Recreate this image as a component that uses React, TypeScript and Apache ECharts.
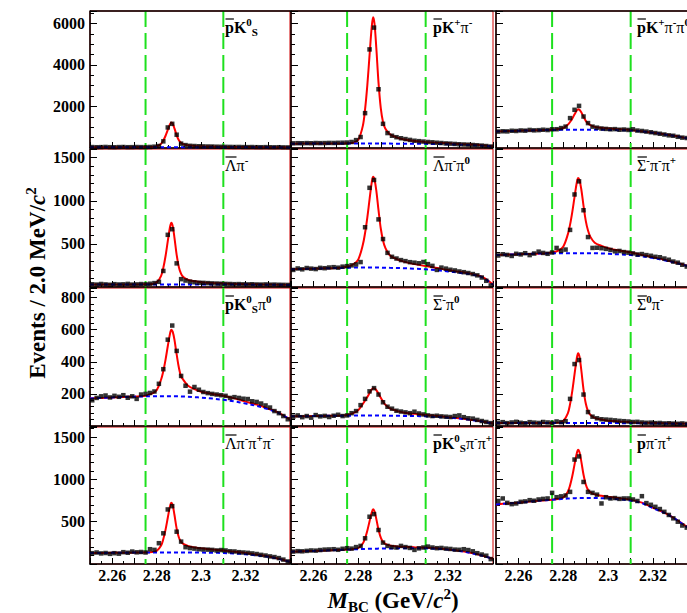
import React, { useEffect, useRef } from 'react';
import * as echarts from 'echarts';

// Bin centres (2 MeV bins)
const binX = [2.251,2.253,2.255,2.257,2.259,2.261,2.263,2.265,2.267,2.269,2.271,2.273,2.275,2.277,2.279,2.281,2.283,2.285,2.287,2.289,2.291,2.293,2.295,2.297,2.299,2.301,2.303,2.305,2.307,2.309,2.311,2.313,2.315,2.317,2.319,2.321,2.323,2.325,2.327,2.329,2.331,2.333,2.335,2.337,2.339];
// Abscissae at which the fit curves were read
const fitX = [2.25,2.255,2.26,2.265,2.27,2.275,2.278,2.28,2.282,2.283,2.284,2.285,2.286,2.2866,2.2872,2.288,2.289,2.29,2.291,2.292,2.294,2.297,2.3,2.305,2.31,2.315,2.32,2.325,2.33,2.335,2.34];
const windowLo = 2.275;
const windowHi = 2.31;
const xTickLabels = ['2.26', '2.28', '2.3', '2.32'];

// 1  pbar K0S
const data1 = [45,38,42,50,40,36,44,48,39,41,47,43,40,50,64,95,320,990,1165,640,210,140,105,95,85,78,72,70,62,58,55,52,48,50,44,42,46,40,38,42,36,34,38,30,28];
const fit1 = [42,42,42,42,42,44,52,78,209,363,590,875,1149,1232,1172,946,613,375,244,185,131,101,82,67,57,50,46,42,39,36,32];
const bkg1 = [42,42,42,42,42,42,42,42,42,42,42,42,42,42,42,42,42,42,42,42,42,41,41,40,40,38,36,34,32,30,28];
// 2  pbar K+ pi-
const data2 = [225,232,228,236,230,240,235,238,245,242,250,255,262,290,380,528,1680,4750,5800,2830,1165,720,590,520,470,430,390,350,330,310,290,275,255,240,220,210,195,180,170,160,145,130,115,95,70];
const fit2 = [210,211,212,213,214,226,263,397,1067,1858,3014,4476,5877,6303,5998,4840,3135,1917,1247,942,668,515,421,338,291,253,223,192,164,128,82];
const bkg2 = [210,211,212,213,214,214,214,214,214,214,213,213,213,213,213,212,212,212,212,211,211,210,208,204,200,192,180,162,140,110,70];
// 3  pbar K+ pi- pi0
const data3 = [790,805,800,830,820,845,835,870,850,860,880,865,900,905,960,1030,1440,1840,2030,1517,1200,1030,980,940,920,900,910,880,890,870,900,840,820,790,760,720,686,650,610,590,540,500,480,430,380];
const fit3 = [800,815,830,845,858,878,912,964,1125,1253,1423,1621,1809,1868,1839,1721,1504,1306,1177,1098,1019,967,934,900,870,810,740,662,575,474,373];
const bkg3 = [800,815,830,845,858,868,872,875,877,877,878,878,878,878,879,879,880,880,880,880,880,878,870,860,845,795,730,655,570,470,370];
// 4  Lambdabar pi-
const data4 = [32,28,35,30,26,33,29,31,36,28,30,34,31,38,45,60,186,605,670,274,91,75,62,55,50,48,45,42,40,38,36,35,33,34,31,30,32,29,28,30,27,28,26,25,24];
const fit4 = [30,30,30,30,30,31,36,51,130,223,359,531,695,745,709,573,373,230,152,116,84,66,55,46,41,36,33,31,29,27,25];
const bkg4 = [30,30,30,30,30,30,30,30,30,30,30,30,30,30,30,30,30,30,30,30,30,30,30,30,30,29,28,27,26,25,24];
// 5  Lambdabar pi- pi0
const data5 = [198,215,205,220,213,208,222,218,226,230,224,236,242,251,262,289,693,1150,1241,784,556,396,350,330,312,300,288,282,275,290,265,245,198,225,213,200,192,180,172,162,150,135,110,72,18];
const fit5 = [205,209,212,216,220,234,267,321,489,626,805,1016,1216,1279,1247,1121,888,678,540,456,369,325,297,265,243,220,196,176,155,120,28];
const bkg5 = [205,209,212,216,220,223,225,226,226,226,226,226,226,226,226,226,225,225,224,224,222,220,218,212,205,194,180,165,148,115,25];
// 6  Sigmabar- pi- pi+
const data6 = [365,380,372,360,385,378,392,370,388,410,395,385,400,453,420,434,662,1073,1225,890,579,453,455,450,442,430,414,418,405,398,390,377,382,370,362,350,345,330,316,295,282,258,237,215,195];
const fit6 = [370,375,380,384,388,399,426,470,610,723,872,1046,1212,1264,1238,1133,941,767,654,584,513,476,450,422,401,372,345,317,284,248,203];
const bkg6 = [370,375,380,384,388,390,391,392,392,392,392,392,392,392,392,392,392,392,392,392,391,389,385,378,370,355,335,310,280,245,200];
// 7  pbar K0S pi0
const data7 = [160,175,185,190,178,188,182,192,176,185,169,196,200,206,215,263,354,538,626,468,312,251,214,243,226,212,205,200,196,192,188,175,180,175,170,168,154,150,140,128,115,93,80,62,42];
const fit7 = [172,175,178,181,183,189,203,223,290,343,414,497,575,600,588,538,446,363,308,288,253,230,214,200,188,172,152,133,109,82,40];
const bkg7 = [172,175,178,181,183,185,186,186,186,186,186,186,186,186,186,186,185,185,184,184,183,180,177,171,163,153,140,125,105,80,40];
// 8  Sigmabar- pi0
const data8 = [58,66,55,62,52,68,60,63,56,64,70,62,66,80,93,130,169,216,236,196,148,120,108,95,90,85,80,89,78,72,66,62,64,60,58,56,62,66,55,48,46,38,31,25,18];
const fit8 = [60,61,62,63,64,69,82,99,137,159,181,205,229,236,234,224,202,176,154,133,110,95,84,76,69,62,55,48,39,29,15];
const bkg8 = [60,61,62,63,64,64,65,65,65,65,65,65,65,65,65,65,65,65,65,65,64,64,63,62,60,56,52,46,38,28,15];
// 9  Sigmabar0 pi-
const data9 = [20,24,18,22,26,20,17,24,21,19,25,22,20,28,24,30,169,386,411,196,87,58,48,42,40,38,35,32,30,28,25,26,22,20,21,18,19,16,17,15,14,16,13,12,12];
const fit9 = [18,18,18,18,18,19,21,31,79,136,219,323,423,454,432,349,227,140,92,70,51,40,33,28,24,21,19,17,16,14,11];
const bkg9 = [18,18,18,18,18,18,18,18,18,18,18,18,18,18,18,18,18,18,18,18,18,18,18,18,17,17,16,15,14,12,10];
// 10 Lambdabar pi- pi+ pi-
const data10 = [128,136,125,130,120,128,122,140,133,147,138,142,136,175,167,246,363,645,684,382,265,199,188,182,175,172,170,167,160,165,160,150,148,140,136,132,125,118,108,100,90,82,70,52,30];
const fit10 = [130,131,132,133,135,137,142,155,219,295,407,547,682,723,694,582,418,313,260,237,213,195,185,171,159,145,130,111,91,63,25];
const bkg10 = [130,131,132,133,135,136,137,137,137,137,137,137,137,137,137,137,137,137,137,137,137,136,135,133,130,124,115,102,85,60,25];
// 11 pbar K0S pi- pi+
const data11 = [147,152,150,155,160,158,165,170,172,175,168,180,187,182,200,214,304,559,590,402,253,214,200,195,214,200,190,167,185,195,206,195,187,190,182,178,170,168,175,165,150,128,112,98,58];
const fit11 = [145,150,155,160,165,171,177,189,242,304,393,506,612,646,623,534,405,312,261,239,219,208,203,197,192,185,173,157,132,101,61];
const bkg11 = [145,150,155,160,165,170,173,175,177,178,179,180,180,181,181,181,182,182,182,183,184,185,187,187,185,180,170,155,130,100,60];
// 12 pbar pi- pi+
const data12 = [745,775,723,708,716,735,740,755,748,763,770,775,841,790,800,810,853,1235,1272,970,853,841,820,716,790,775,780,770,775,775,763,745,802,720,700,676,650,617,580,540,500,455,430,400,370];
const fit12 = [705,715,725,738,750,761,771,787,854,930,1040,1178,1310,1351,1322,1214,1055,941,878,849,823,807,795,778,759,726,664,608,532,442,361];
const bkg12 = [705,715,725,738,750,760,766,770,774,776,777,778,779,780,780,780,781,781,781,781,780,778,775,765,750,720,660,605,530,440,360];

// Decay-mode labels (rich text) and the barred leading letter
const modeLabels = [
  '{b|pK}{sup|0}{sub|S}',
  '{b|pK}{sup|+}{g|π}{sup|-}',
  '{b|pK}{sup|+}{g|π}{sup|-}{g|π}{sup|0}',
  '{g|Λπ}{sup|-}',
  '{g|Λπ}{sup|-}{g|π}{sup|0}',
  '{g|Σ}{sup|-}{g|π}{sup|-}{g|π}{sup|+}',
  '{b|pK}{sup|0}{sub|S}{g|π}{sup|0}',
  '{g|Σ}{sup|-}{g|π}{sup|0}',
  '{g|Σ}{sup|0}{g|π}{sup|-}',
  '{g|Λπ}{sup|-}{g|π}{sup|+}{g|π}{sup|-}',
  '{b|pK}{sup|0}{sub|S}{g|π}{sup|-}{g|π}{sup|+}',
  '{b|p}{g|π}{sup|-}{g|π}{sup|+}',
];
const barredLetter = ['p','p','p','Λ','Λ','Σ','p','Σ','Σ','Λ','p','p'];

const panelData = [data1,data2,data3,data4,data5,data6,data7,data8,data9,data10,data11,data12];
const panelFit = [fit1,fit2,fit3,fit4,fit5,fit6,fit7,fit8,fit9,fit10,fit11,fit12];
const panelBkg = [bkg1,bkg2,bkg3,bkg4,bkg5,bkg6,bkg7,bkg8,bkg9,bkg10,bkg11,bkg12];

const rowMax = [6600, 1600, 860, 1620];
const rowInterval = [2000, 500, 200, 500];
const rowMinorSplit = [4, 5, 5, 5];

const FONT = '"Liberation Serif", "Times New Roman", Times, serif';

export default function App() {
  const ref = useRef<HTMLDivElement>(null);
  useEffect(() => {
    if (!ref.current) return;
    const chart = echarts.init(ref.current, null, { renderer: 'svg' });

    const rowTops = [11, 149, 288, 427];
    const rowHeights = [137, 138, 138, 137];
    const colLefts = [90, 291, 496];
    const colWidths = [200, 202, 202];
    const labelLefts = [225, 433, 637];
    const barWidth: Record<string, number> = { p: 8.9, 'Λ': 11.5, 'Σ': 9.9 };

    const grids: any[] = [];
    const xAxes: any[] = [];
    const yAxes: any[] = [];
    const series: any[] = [];
    const graphics: any[] = [];

    const rich = {
      b: { fontFamily: FONT, fontSize: 16, fontWeight: 'bold', lineHeight: 21, fill: '#000' },
      g: { fontFamily: FONT, fontSize: 16, fontWeight: 'normal', lineHeight: 21, fill: '#000' },
      sup: { fontFamily: FONT, fontSize: 11, fontWeight: 'bold', lineHeight: 12, verticalAlign: 'top', fill: '#000' },
      sub: { fontFamily: FONT, fontSize: 11, fontWeight: 'bold', lineHeight: 12, verticalAlign: 'bottom', fill: '#000' },
    };

    for (let g = 0; g < 12; g++) {
      const r = Math.floor(g / 3);
      const c = g % 3;
      grids.push({
        left: colLefts[c], top: rowTops[r], width: colWidths[c], height: rowHeights[r],
        outerBoundsMode: 'none', containLabel: false,
        show: true, borderColor: '#d00000', borderWidth: 1, backgroundColor: 'transparent',
      });
      xAxes.push({
        gridIndex: g, type: 'value', min: 2.25, max: 2.34, interval: 0.01,
        axisLine: { show: true, onZero: false, lineStyle: { color: '#000', width: 1.5 } },
        axisTick: { show: true, inside: true, length: 6, lineStyle: { color: '#000', width: 1 } },
        minorTick: { show: true, splitNumber: 2, length: 3, lineStyle: { color: '#000', width: 1 } },
        splitLine: { show: false },
        axisLabel: {
          show: r === 3, margin: 3, color: '#000', fontFamily: FONT, fontWeight: 'bold', fontSize: 16,
          formatter: (v: number) => {
            const s = String(Math.round(v * 1000) / 1000);
            return xTickLabels.includes(s) ? s : '';
          },
        },
      });
      yAxes.push({
        gridIndex: g, type: 'value', min: 0, max: rowMax[r], interval: rowInterval[r],
        axisLine: { show: true, onZero: false, lineStyle: { color: '#000', width: 1.5 } },
        axisTick: { show: true, inside: true, length: 7, lineStyle: { color: '#000', width: 1 } },
        minorTick: { show: true, splitNumber: rowMinorSplit[r], length: 4, lineStyle: { color: '#000', width: 1 } },
        splitLine: { show: false },
        axisLabel: {
          show: c === 0, margin: 5, color: '#000', fontFamily: FONT, fontWeight: 'bold', fontSize: 16,
          formatter: (v: number) => (v > 0 && v % rowInterval[r] === 0 ? String(v) : ''),
        },
      });
      // signal-window boundaries
      [windowLo, windowHi].forEach((wx) => {
        series.push({
          type: 'line', xAxisIndex: g, yAxisIndex: g, z: 1, silent: true,
          data: [[wx, rowMax[r]], [wx, 0]],
          symbol: 'none', lineStyle: { color: '#1ee01e', type: [16, 6], width: 2 },
        });
      });
      series.push({
        type: 'line', xAxisIndex: g, yAxisIndex: g, z: 3,
        data: fitX.map((x, i) => [x, panelFit[g][i]]),
        smooth: 0.35, symbol: 'none', lineStyle: { color: '#ff0000', width: 2 },
      });
      series.push({
        type: 'line', xAxisIndex: g, yAxisIndex: g, z: 4,
        data: fitX.map((x, i) => [x, panelBkg[g][i]]),
        smooth: 0.35, symbol: 'none', lineStyle: { color: '#0000ff', width: 2, type: [4, 3] },
      });
      series.push({
        type: 'scatter', xAxisIndex: g, yAxisIndex: g, z: 5,
        data: binX.map((x, i) => [x, panelData[g][i]]),
        symbol: 'rect', symbolSize: 4.5, itemStyle: { color: '#000' },
      });

      const ly = rowTops[r] + 16;
      const lx = labelLefts[c];
      graphics.push({
        type: 'text', x: lx, y: ly, z: 10,
        style: { text: modeLabels[g], rich, align: 'left', verticalAlign: 'middle', fill: '#000' },
      });
      const bw = barWidth[barredLetter[g]];
      graphics.push({
        type: 'line', z: 10,
        shape: { x1: lx + 0.5, y1: ly - 8, x2: lx + bw, y2: ly - 8 },
        style: { stroke: '#000', lineWidth: 1.2 },
      });
    }

    // top frame line of first row
    graphics.push({
      type: 'line', z: 10,
      shape: { x1: 90, y1: 11, x2: 687, y2: 11 },
      style: { stroke: '#000', lineWidth: 1.5 },
    });
    // axis titles
    graphics.push({
      type: 'text', x: 37, y: 283, rotation: Math.PI / 2, z: 10,
      style: {
        text: '{t|Events / 2.0 MeV/}{i|c}{s|2}', align: 'center', verticalAlign: 'middle',
        rich: {
          t: { fontFamily: FONT, fontSize: 23, fontWeight: 'bold', lineHeight: 28, fill: '#000' },
          i: { fontFamily: FONT, fontSize: 23, fontWeight: 'bold', fontStyle: 'italic', lineHeight: 28, fill: '#000' },
          s: { fontFamily: FONT, fontSize: 15, fontWeight: 'bold', lineHeight: 17, verticalAlign: 'top', fill: '#000' },
        },
      },
    });
    graphics.push({
      type: 'text', x: 393, y: 600, z: 10,
      style: {
        text: '{i|M}{sub|BC}{t| (GeV/}{i|c}{s|2}{t|)}', align: 'center', verticalAlign: 'middle',
        rich: {
          t: { fontFamily: FONT, fontSize: 23, fontWeight: 'bold', lineHeight: 28, fill: '#000' },
          i: { fontFamily: FONT, fontSize: 23, fontWeight: 'bold', fontStyle: 'italic', lineHeight: 28, fill: '#000' },
          s: { fontFamily: FONT, fontSize: 15, fontWeight: 'bold', lineHeight: 17, verticalAlign: 'top', fill: '#000' },
          sub: { fontFamily: FONT, fontSize: 15, fontWeight: 'bold', lineHeight: 17, verticalAlign: 'bottom', fill: '#000' },
        },
      },
    });

    chart.setOption({
      animation: false,
      backgroundColor: '#fff',
      grid: grids,
      xAxis: xAxes,
      yAxis: yAxes,
      series,
      graphic: graphics,
    });
    return () => chart.dispose();
  }, []);
  return (
    <div
      ref={ref}
      style={{ position: 'fixed', left: 0, top: 0, width: 687, height: 613, background: '#fff' }}
    />
  );
}
